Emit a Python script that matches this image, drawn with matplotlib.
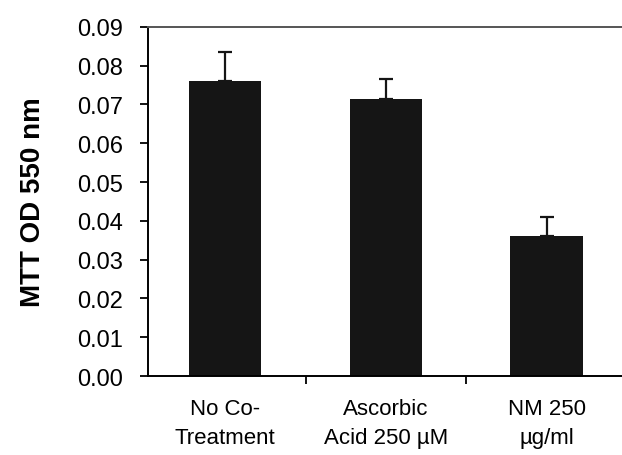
import numpy as np
import matplotlib.pyplot as plt
from matplotlib import font_manager

categories = ['No Co-\nTreatment', 'Ascorbic\nAcid 250 µM', 'NM 250\nµg/ml']
values = [0.076, 0.0715, 0.036]
errors = [0.0075, 0.005, 0.005]

names = {f.name for f in font_manager.fontManager.ttflist}
fam = 'Liberation Sans Narrow' if 'Liberation Sans Narrow' in names else 'Liberation Sans'
plt.rcParams['font.family'] = [fam, 'DejaVu Sans']

fig = plt.figure(figsize=(6.22, 4.56), dpi=100)
ax = fig.add_axes([0.238, 0.173, 0.77, 0.766])

x = np.arange(len(categories))
ax.bar(x, values, width=0.45, color='#151515', zorder=2)
ax.errorbar(x, values, yerr=[np.zeros(3), errors], fmt='none', ecolor='#151515',
            elinewidth=1.6, capsize=5, capthick=1.6, zorder=3)

ax.set_xlim(-0.48, 2.47)
ax.set_ylim(0, 0.09)
ax.set_yticks(np.arange(0, 0.0901, 0.01))
ax.set_yticklabels([f'{v:.2f}' for v in np.arange(0, 0.0901, 0.01)],
                   fontsize=17)
ax.set_xticks([0.5, 1.5, 2.5])
ax.set_xticklabels([])
ax.set_xticks(x, minor=True)
ax.set_xticklabels(categories, minor=True, fontsize=16, linespacing=1.5)
ax.tick_params(axis='x', which='minor', length=0, pad=16)
ax.tick_params(axis='x', which='major', length=6, width=1.3, direction='out')
ax.tick_params(axis='y', length=6, width=1.3, direction='out', pad=12)

for s in ['left', 'bottom', 'top']:
    ax.spines[s].set_linewidth(1.4)
ax.spines['top'].set_color('#555555')
ax.spines['right'].set_visible(False)

ax.set_ylabel('MTT OD 550 nm', fontsize=20, fontweight='bold',
              family=['Liberation Sans', 'DejaVu Sans'], labelpad=22)

fig.savefig('out.png', dpi=100)
